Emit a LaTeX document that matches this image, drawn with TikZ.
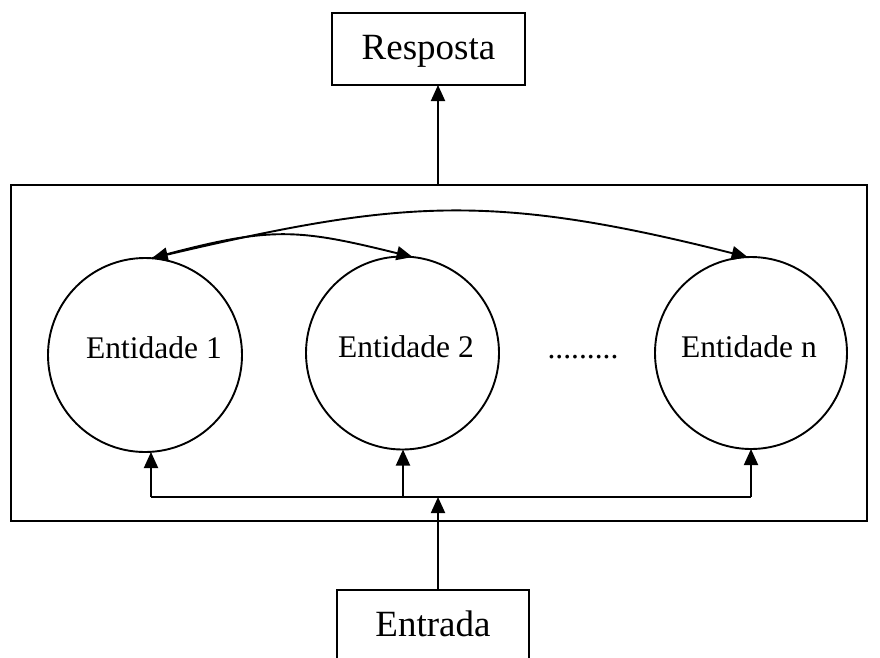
\documentclass[tikz,border=0pt]{standalone}
\usepackage{fontspec}
\setmainfont{Liberation Serif}
\usetikzlibrary{arrows.meta}
\begin{document}
\begin{tikzpicture}[x=1pt,y=-1pt,
  line width=1.9pt,
  tip/.style={-{Triangle[length=16pt,width=14pt]}},
  bothtips/.style={{Triangle[length=16pt,width=14pt]}-{Triangle[length=16pt,width=14pt]}},
  frame/.style={draw, rectangle, inner sep=0pt, outer sep=0pt},
  ent/.style={draw, circle, inner sep=0pt, outer sep=0pt},
  bigtext/.style={font=\fontsize{37}{44}\selectfont, anchor=base, inner sep=0pt},
  enttext/.style={font=\fontsize{31.5}{38}\selectfont, anchor=base, inner sep=0pt},
]
\clip (0,0) rectangle (880,657);

% boxes
\node[frame, minimum width=193pt, minimum height=72pt] (resp) at (428.5,49) {};
\node[bigtext] (resplabel) at (428.5,59) {Resposta};
\node[frame, minimum width=856pt, minimum height=336pt] (sys) at (439,353) {};
\node[frame, minimum width=192pt, minimum height=90pt] (entr) at (433,635) {};
\node[bigtext] (entrlabel) at (433,636) {Entrada};

% entities
\node[ent, minimum size=194pt] (e1) at (145,355) {};
\node[ent, minimum size=193pt] (e2) at (402.5,353) {};
\node[ent, minimum size=192pt] (en) at (751,353) {};
\node[enttext] (e1label) at (154,358) {Entidade 1};
\node[enttext] (e2label) at (406,357) {Entidade 2};
\node[enttext] (enlabel) at (749,357) {Entidade n};
\node[enttext] (dots) at (583,358) {.........};

% vertical axis of the input/output arrows and the distribution bus
\coordinate (ax) at (438,0);
\coordinate (b1) at (151,497);
\coordinate (b2) at (403,497);
\coordinate (bn) at (751,497);

% output
\draw[tip] (sys.north -| ax) -- (resp.south -| ax);

% input and bus
\draw[tip] (entr.north -| ax) -- (ax |- b1);
\draw (b1) -- (bn);
\draw[tip] (b1) -- (b1 |- e1.south);
\draw[tip] (b2) -- (b2 |- e2.south);
\draw[tip] (bn) -- (bn |- en.south);

% links between entities
\draw[bothtips] (e1.86) .. controls (400,200) and (490,192) .. (en.92);
\draw[tip] (e1.86) .. controls (270,226) and (295,228) .. (e2.84);
\end{tikzpicture}
\end{document}
